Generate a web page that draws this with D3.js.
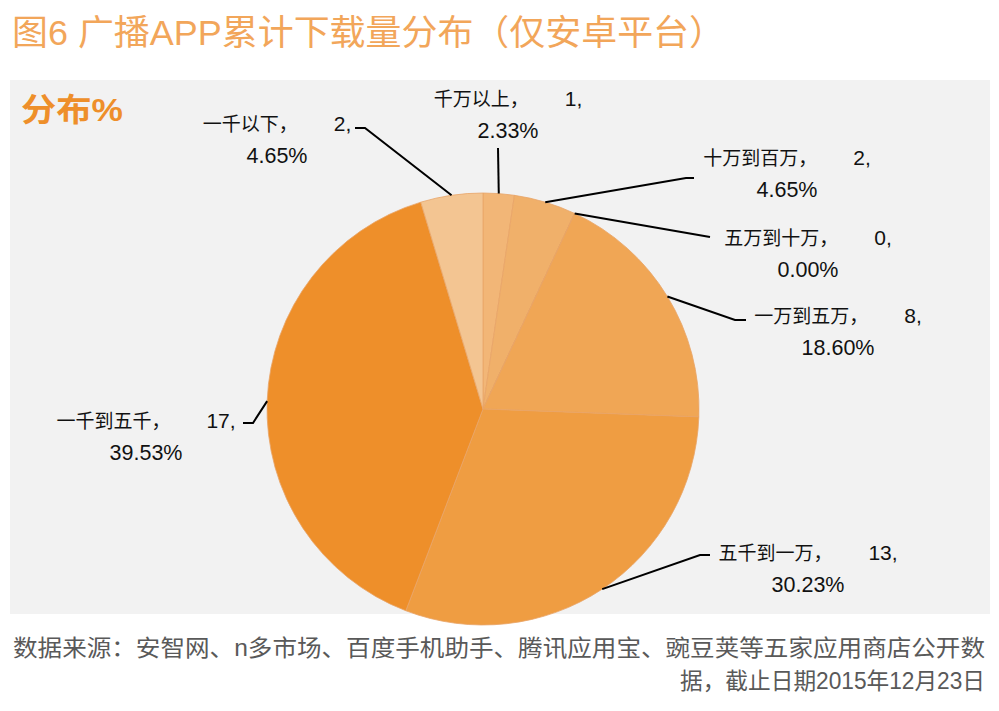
<!DOCTYPE html>
<html>
<head>
<meta charset="utf-8">
<script src="https://cdn.jsdelivr.net/npm/d3@7"></script>
<style>
    body { margin: 0; background: #ffffff; }
    svg text { font-family: "Liberation Sans", "Noto Sans CJK SC", sans-serif; }
</style>
</head>
<body>
<div id="chart"></div>
<script>
// Slices in drawing order, clockwise from 12 o'clock
const categories = ["千万以上", "十万到百万", "五万到十万", "一万到五万", "五千到一万", "一千到五千", "一千以下"];
const counts = [1, 2, 0, 8, 13, 17, 2];
const percents = ["2.33%", "4.65%", "0.00%", "18.60%", "30.23%", "39.53%", "4.65%"];
const sliceColors = ["#F2B677", "#F0B06A", "#F0AA5E", "#F0A655", "#EF9D42", "#EE8F2A", "#F3C592"];

// label centres and leader elbows (layout only)
const labelAt = [[508, 98], [787, 157], [808, 237], [838, 315], [808, 552], [146, 420], [277, 123]];
const elbows = [
    [[498, 148]],
    [[686, 178], [694, 178]],
    [[710, 237]],
    [[735, 320], [746, 320]],
    [[700, 555], [710, 555]],
    [[253, 423], [243, 423]],
    [[365, 128], [355, 128]]
];

const width = 999, height = 711;
const cx = 483, cy = 409, radius = 216;

const svg = d3.select("#chart").append("svg")
    .attr("width", width)
    .attr("height", height);

// title
svg.append("text")
    .attr("x", 12)
    .attr("y", 45)
    .attr("font-size", 35)
    .attr("fill", "#F2A65A")
    .attr("textLength", 713)
    .attr("lengthAdjust", "spacingAndGlyphs")
    .text("图6 广播APP累计下载量分布（仅安卓平台）");

// grey panel
svg.append("rect")
    .attr("x", 10)
    .attr("y", 80)
    .attr("width", 980)
    .attr("height", 534)
    .attr("fill", "#F2F2F2");

svg.append("text")
    .attr("x", 21)
    .attr("y", 121)
    .attr("font-size", 32)
    .attr("font-weight", "bold")
    .attr("fill", "#EE8F2A")
    .attr("textLength", 102)
    .attr("lengthAdjust", "spacingAndGlyphs")
    .text("分布%");

const pie = d3.pie().sort(null).value(d => d);
const arcs = pie(counts);

const arc = d3.arc().innerRadius(0).outerRadius(radius);
const edge = d3.arc().innerRadius(radius).outerRadius(radius);

const g = svg.append("g")
    .attr("transform", `translate(${cx}, ${cy})`);

g.selectAll("path.slice")
    .data(arcs)
    .enter()
    .append("path")
    .attr("class", "slice")
    .attr("d", arc)
    .attr("fill", (d, i) => sliceColors[i])
    .attr("stroke", "#E9A468")
    .attr("stroke-width", 0.8);

// leader lines
const line = d3.line();
svg.selectAll("path.leader")
    .data(arcs)
    .enter()
    .append("path")
    .attr("class", "leader")
    .attr("fill", "none")
    .attr("stroke", "#000")
    .attr("stroke-width", 2)
    .attr("d", (d, i) => {
        const p = edge.centroid(d);
        return line([[cx + p[0], cy + p[1]]].concat(elbows[i]));
    });

// labels
const labels = svg.selectAll("g.label")
    .data(arcs)
    .enter()
    .append("g")
    .attr("class", "label")
    .attr("fill", "#111");

const first = labels.append("text")
    .attr("text-anchor", "middle")
    .attr("x", (d, i) => labelAt[i][0])
    .attr("y", (d, i) => labelAt[i][1] + 8);
first.append("tspan").attr("font-size", 19).text((d, i) => categories[i] + "，");
first.append("tspan").attr("font-size", 21).attr("dx", 36).text((d, i) => counts[i] + ",");

labels.append("text")
    .attr("text-anchor", "middle")
    .attr("font-size", 21.5)
    .attr("x", (d, i) => labelAt[i][0])
    .attr("y", (d, i) => labelAt[i][1] + 40)
    .text((d, i) => percents[i]);

// source note
svg.append("text")
    .attr("x", 13)
    .attr("y", 656)
    .attr("font-size", 23)
    .attr("fill", "#595959")
    .attr("textLength", 972)
    .attr("lengthAdjust", "spacingAndGlyphs")
    .text("数据来源：安智网、n多市场、百度手机助手、腾讯应用宝、豌豆荚等五家应用商店公开数");

svg.append("text")
    .attr("x", 680)
    .attr("y", 689)
    .attr("font-size", 23)
    .attr("fill", "#595959")
    .attr("textLength", 305)
    .attr("lengthAdjust", "spacingAndGlyphs")
    .text("据，截止日期2015年12月23日");
</script>
</body>
</html>
